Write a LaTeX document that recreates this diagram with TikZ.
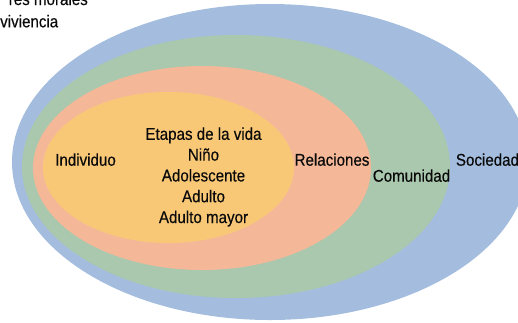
\documentclass[tikz,border=0pt]{standalone}
\usepackage{fontspec}
\setmainfont{Liberation Sans}[FakeStretch=0.89, FakeBold=0.4]
\usepackage{tikz}
\usetikzlibrary{positioning}
\definecolor{socblue}{RGB}{164,189,222}
\definecolor{comgreen}{RGB}{169,200,174}
\definecolor{relsalmon}{RGB}{244,184,152}
\definecolor{indorange}{RGB}{249,200,119}
\definecolor{txtdark}{RGB}{10,10,10}
\tikzset{
  lbl/.style={inner sep=0pt, anchor=base, text=txtdark,
    font=\fontsize{17}{20.8}\selectfont},
  stages/.style={inner sep=0pt, align=center, text=txtdark,
    font=\fontsize{17}{20.8}\selectfont}
}
\begin{document}
\begin{tikzpicture}[x=1pt, y=-1pt]
  \useasboundingbox (0,0) rectangle (518,322);

  % Nested levels
  \fill[socblue] (270,162) ellipse (258 and 158);
  \fill[comgreen] (236,166.5) ellipse (214 and 131.5);
  \fill[relsalmon] (202,168) ellipse (169 and 102);
  \fill[indorange] (168.5,167.5) ellipse (125.5 and 75.5);

  % Level labels
  \node[lbl] (indiv) at (85.5,165.7) {Individuo};
  \node[lbl] (relac) at (332,165.7) {Relaciones};
  \node[lbl] (comun) at (411.5,181.7) {Comunidad};
  \node[lbl, anchor=base west] (socie) at (455.7,165.7) {Sociedad};
  \node[stages] (etapas) at (203.5,177) {Etapas de la vida\\Niño\\Adolescente\\Adulto\\Adulto mayor};

  % Text cut off at the top
  \node[lbl, anchor=base east] (morales) at (88,5) {res morales};
  \node[lbl, anchor=base west] (conviv) at (0,27.3) {viviencia};
\end{tikzpicture}
\end{document}
